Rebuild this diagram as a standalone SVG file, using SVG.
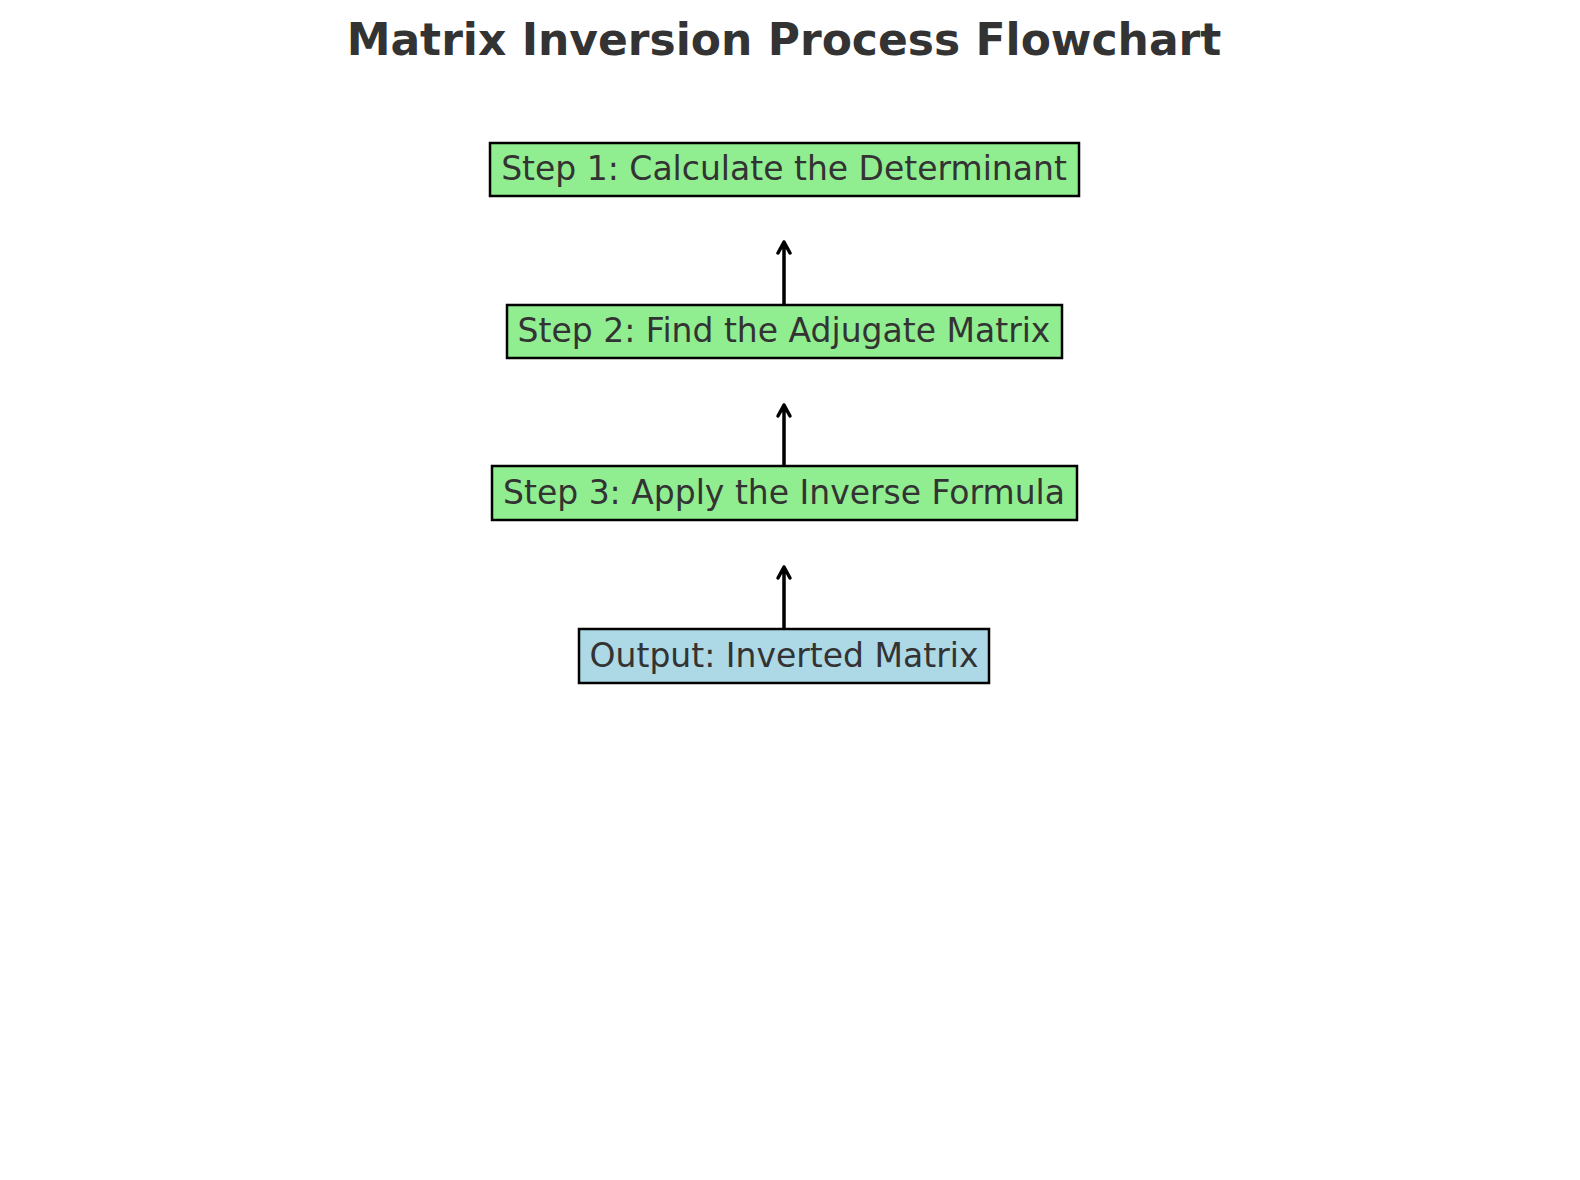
<svg xmlns="http://www.w3.org/2000/svg" width="1580" height="1180" viewBox="0 0 1580 1180">
<style>
.box{stroke:#000;stroke-width:2.5}
.step{fill:#90EE90}
.out{fill:#ADD8E6}
.lbl{font-family:"DejaVu Sans",sans-serif;font-size:33px;fill:#333;text-anchor:middle}
.title{font-family:"DejaVu Sans",sans-serif;font-size:44px;font-weight:bold;fill:#333;text-anchor:middle}
.conn{stroke:#000;stroke-width:3.5;fill:none;stroke-linecap:round;stroke-linejoin:round}
</style>
<rect width="1580" height="1180" fill="#fff"/>
<text class="title" x="784" y="55">Matrix Inversion Process Flowchart</text>
<g id="connectors">
<path class="conn" d="M784 305 V242 M778 253 L784 242 L790 253"/>
<path class="conn" d="M784 466 V405 M778 416 L784 405 L790 416"/>
<path class="conn" d="M784 629 V567 M778 578 L784 567 L790 578"/>
</g>
<g id="step1">
<rect class="box step" x="490" y="143" width="589" height="53"/>
<text class="lbl" x="784" y="180">Step 1: Calculate the Determinant</text>
</g>
<g id="step2">
<rect class="box step" x="507" y="305" width="555" height="53"/>
<text class="lbl" x="784" y="342">Step 2: Find the Adjugate Matrix</text>
</g>
<g id="step3">
<rect class="box step" x="492" y="466" width="585" height="54"/>
<text class="lbl" x="784" y="504">Step 3: Apply the Inverse Formula</text>
</g>
<g id="output">
<rect class="box out" x="579" y="629" width="410" height="54"/>
<text class="lbl" x="784" y="667">Output: Inverted Matrix</text>
</g>
</svg>
